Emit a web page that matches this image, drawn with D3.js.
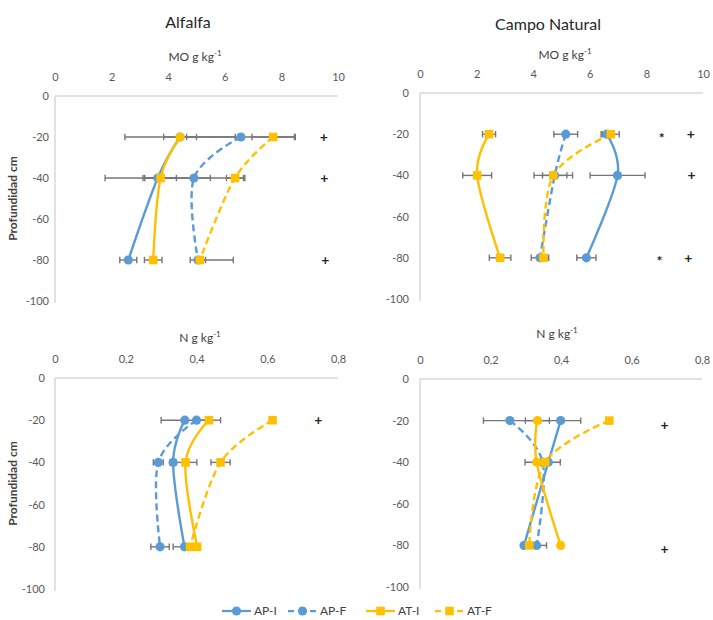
<!DOCTYPE html>
<html>
<head>
<meta charset="utf-8">
<script src="https://cdn.jsdelivr.net/npm/d3@7/dist/d3.min.js"></script>
<style>
  html, body { margin: 0; padding: 0; background: #ffffff; }
  svg { display: block; }
  text { font-family: Lato, "Open Sans", "Liberation Sans", sans-serif; }
</style>
</head>
<body>
<svg id="chart" width="713" height="620"></svg>
<script>
// ---------------- DATA ----------------
const seriesNames = ["AP-I", "AP-F", "AT-I", "AT-F"];
const depths = [-20, -40, -80];
const depthTicks = [0, -20, -40, -60, -80, -100];

const moTicks = [0, 2, 4, 6, 8, 10];
const moTickLabels = ["0", "2", "4", "6", "8", "10"];
const nTicks = [0, 0.2, 0.4, 0.6, 0.8];
const nTickLabels = ["0", "0,2", "0,4", "0,6", "0,8"];

const panelTitles = ["Alfalfa", "Campo Natural"];

// Alfalfa - MO g kg-1
const alfalfaMO = {
  "AP-I": [4.42, 3.63, 2.59],
  "AP-F": [6.57, 4.91, 5.05],
  "AT-I": [4.42, 3.73, 3.47],
  "AT-F": [7.71, 6.36, 5.12]
};
const alfalfaMOErrLo = {
  "AP-I": [1.95, 1.86, 0.30],
  "AP-F": [1.92, 1.80, 0.27],
  "AT-I": [0.58, 0.56, 0.31],
  "AT-F": [0.75, 0.30, 0.00]
};
const alfalfaMOErrHi = {
  "AP-I": [1.95, 1.86, 0.30],
  "AP-F": [1.92, 1.80, 0.27],
  "AT-I": [0.58, 0.56, 0.31],
  "AT-F": [0.75, 0.30, 1.18]
};
const alfalfaMOMarks = [
  { v: 9.5, d: -20, t: "+" }, { v: 9.52, d: -40, t: "+" }, { v: 9.55, d: -80, t: "+" }
];

// Campo Natural - MO g kg-1
const campoMO = {
  "AP-I": [6.60, 6.98, 5.88],
  "AP-F": [5.15, 4.76, 4.24],
  "AT-I": [2.44, 2.02, 2.83],
  "AT-F": [6.74, 4.71, 4.36]
};
const campoMOErr = {
  "AP-I": [0.20, 0.97, 0.34],
  "AP-F": [0.42, 0.43, 0.31],
  "AT-I": [0.23, 0.51, 0.38],
  "AT-F": [0.30, 0.68, 0.12]
};
const campoMOMarks = [
  { v: 8.54, d: -20, t: "*" }, { v: 9.57, d: -20, t: "+" },
  { v: 9.6, d: -40, t: "+" },
  { v: 8.46, d: -80, t: "*" }, { v: 9.48, d: -80, t: "+" }
];

// Alfalfa - N g kg-1
const alfalfaN = {
  "AP-I": [0.367, 0.334, 0.366],
  "AP-F": [0.400, 0.292, 0.297],
  "AT-I": [0.435, 0.369, 0.402],
  "AT-F": [0.615, 0.468, 0.382]
};
const alfalfaNErr = {
  "AP-I": [0.067, 0.009, 0.032],
  "AP-F": [0.008, 0.014, 0.026],
  "AT-I": [0.033, 0.032, 0.004],
  "AT-F": [0.007, 0.027, 0.004]
};
const alfalfaNMarks = [{ v: 0.744, d: -20, t: "+" }];

// Campo Natural - N g kg-1
const campoN = {
  "AP-I": [0.399, 0.364, 0.295],
  "AP-F": [0.255, 0.348, 0.331],
  "AT-I": [0.333, 0.331, 0.399],
  "AT-F": [0.537, 0.355, 0.310]
};
const campoNErr = {
  "AP-I": [0.057, 0.004, 0.004],
  "AP-F": [0.075, 0.050, 0.028],
  "AT-I": [0.034, 0.004, 0.004],
  "AT-F": [0.007, 0.004, 0.004]
};
const campoNMarks = [{ v: 0.694, d: -22, t: "+" }, { v: 0.694, d: -82, t: "+" }];

// ---------------- STYLE / LAYOUT ----------------
const BLUE = "#5B9BD5", YELLOW = "#FFC000", ERR = "#767676", AXIS = "#d9d9d9", TXT = "#595959";
const seriesStyle = {
  "AP-I": { color: BLUE, dash: null, shape: "circle" },
  "AP-F": { color: BLUE, dash: "7,4", shape: "circle" },
  "AT-I": { color: YELLOW, dash: null, shape: "square" },
  "AT-F": { color: YELLOW, dash: "7,4", shape: "square" }
};

const panels = [
  { x0: 55, x1: 338, y0: 96, y1: 301, max: 10, ticks: moTicks, labels: moTickLabels,
    vals: alfalfaMO, lo: alfalfaMOErrLo, hi: alfalfaMOErrHi, marks: alfalfaMOMarks,
    axisTitle: "MO g kg", axisTitleX: 195, axisTitleY: 61, tickY: 84, ylabOff: 6,
    title: panelTitles[0], titleX: 188, titleY: 28, ylab: true,
    shapeOverride: { "AT-I": ["circle", "square", "square"] } },
  { x0: 420, x1: 703, y0: 93, y1: 299, max: 10, ticks: moTicks, labels: moTickLabels,
    vals: campoMO, lo: campoMOErr, hi: campoMOErr, marks: campoMOMarks,
    axisTitle: "MO g kg", axisTitleX: 565, axisTitleY: 59, tickY: 81, ylabOff: 11,
    title: panelTitles[1], titleX: 548, titleY: 30, ylab: false, shapeOverride: {} },
  { x0: 55, x1: 338, y0: 378, y1: 589, max: 0.8, ticks: nTicks, labels: nTickLabels,
    vals: alfalfaN, lo: alfalfaNErr, hi: alfalfaNErr, marks: alfalfaNMarks,
    axisTitle: "N g kg", axisTitleX: 200, axisTitleY: 342, tickY: 366, ylabOff: 10,
    title: null, ylab: true, shapeOverride: {} },
  { x0: 420, x1: 702, y0: 379, y1: 587, max: 0.8, ticks: nTicks, labels: nTickLabels,
    vals: campoN, lo: campoNErr, hi: campoNErr, marks: campoNMarks,
    axisTitle: "N g kg", axisTitleX: 557, axisTitleY: 338, tickY: 367, ylabOff: 11,
    title: null, ylab: false, shapeOverride: { "AT-I": ["circle", "circle", "circle"] } }
];

const svg = d3.select("#chart");

function drawMarker(g, shape, cx, cy, color) {
  if (shape === "circle") {
    g.append("circle").attr("cx", cx).attr("cy", cy).attr("r", 4.6).attr("fill", color);
  } else {
    g.append("rect").attr("x", cx - 4.3).attr("y", cy - 4.3).attr("width", 8.6).attr("height", 8.6).attr("fill", color);
  }
}

panels.forEach(p => {
  const x = d3.scaleLinear().domain([0, p.max]).range([p.x0, p.x1]);
  const y = d3.scaleLinear().domain([0, -100]).range([p.y0, p.y1]);
  const g = svg.append("g");

  // title
  if (p.title) {
    g.append("text").attr("x", p.titleX).attr("y", p.titleY).attr("text-anchor", "middle")
      .attr("font-size", 16).attr("fill", "#262626").text(p.title);
  }
  // axis title with superscript
  const at = g.append("text").attr("x", p.axisTitleX).attr("y", p.axisTitleY).attr("text-anchor", "middle")
    .attr("font-size", 12).attr("fill", "#404040");
  at.append("tspan").text(p.axisTitle);
  at.append("tspan").attr("font-size", 8).attr("dy", -5).text("-1");

  // x axis (top) via d3 axis, no domain/ticks lines
  const xAxis = d3.axisTop(x).tickValues(p.ticks).tickSize(0)
    .tickFormat((d, i) => p.labels[i]);
  const xa = g.append("g").attr("transform", `translate(0,${p.tickY})`).call(xAxis);
  xa.select(".domain").remove();
  xa.selectAll("text").attr("fill", TXT).attr("font-size", 11).attr("dy", 0)
    .style("font-family", "Lato, 'Open Sans', sans-serif");

  // y axis labels
  const yAxis = d3.axisLeft(y).tickValues(depthTicks).tickSize(0).tickFormat(d => d === 0 ? "0" : "-" + Math.abs(d));
  const ya = g.append("g").attr("transform", `translate(${p.x0 - p.ylabOff + 3},0)`).call(yAxis);
  ya.select(".domain").remove();
  ya.selectAll("text").attr("fill", TXT).attr("font-size", 11)
    .style("font-family", "Lato, 'Open Sans', sans-serif");

  // axis lines
  g.append("line").attr("x1", x(0)).attr("x2", x(p.max)).attr("y1", y(0)).attr("y2", y(0))
    .attr("stroke", AXIS).attr("stroke-width", 1.5);
  g.append("line").attr("x1", x(0)).attr("x2", x(0)).attr("y1", y(0)).attr("y2", y(-100) + 2)
    .attr("stroke", AXIS).attr("stroke-width", 1.5);

  if (p.ylab) {
    const cy = (y(0) + y(-100)) / 2;
    g.append("text").attr("transform", `translate(17,${cy}) rotate(-90)`).attr("text-anchor", "middle")
      .attr("font-size", 12).attr("font-weight", "bold").attr("fill", "#404040").text("Profundidad cm");
  }

  // error bars
  const eg = g.append("g");
  seriesNames.forEach(s => {
    depths.forEach((d, i) => {
      const v = p.vals[s][i];
      const lo = v - p.lo[s][i], hi = v + p.hi[s][i];
      const yy = y(d);
      eg.append("line").attr("x1", x(lo)).attr("x2", x(hi)).attr("y1", yy).attr("y2", yy)
        .attr("stroke", ERR).attr("stroke-width", 1.4);
      [lo, hi].forEach(e => {
        eg.append("line").attr("x1", x(e)).attr("x2", x(e)).attr("y1", yy - 3.2).attr("y2", yy + 3.2)
          .attr("stroke", ERR).attr("stroke-width", 1.4);
      });
    });
  });

  // lines
  const line = d3.line().x(d => x(d[0])).y(d => y(d[1])).curve(d3.curveCatmullRom.alpha(0));
  seriesNames.forEach(s => {
    const pts = depths.map((d, i) => [p.vals[s][i], d]);
    const st = seriesStyle[s];
    g.append("path").attr("d", line(pts)).attr("fill", "none").attr("stroke", st.color)
      .attr("stroke-width", 2.4).attr("stroke-dasharray", st.dash);
  });

  // markers
  seriesNames.forEach(s => {
    const st = seriesStyle[s];
    depths.forEach((d, i) => {
      const shape = p.shapeOverride[s] ? p.shapeOverride[s][i] : st.shape;
      drawMarker(g, shape, x(p.vals[s][i]), y(d), st.color);
    });
  });

  // significance marks
  p.marks.forEach(m => {
    g.append("text").attr("x", x(m.v)).attr("y", y(m.d)).attr("dy", m.t === "*" ? "0.6em" : "0.35em")
      .attr("text-anchor", "middle").attr("font-size", m.t === "*" ? 14 : 14).attr("font-weight", "bold")
      .attr("fill", "#262626").text(m.t);
  });
});

// legend
const legendX = [222, 288, 366, 435];
const legY = 611;
const lg = svg.append("g");
seriesNames.forEach((s, i) => {
  const st = seriesStyle[s];
  const lx = legendX[i];
  lg.append("line").attr("x1", lx).attr("x2", lx + 29).attr("y1", legY).attr("y2", legY)
    .attr("stroke", st.color).attr("stroke-width", 2.25).attr("stroke-dasharray", st.dash ? "6,5" : null);
  drawMarker(lg, st.shape, lx + 14.5, legY, st.color);
  lg.append("text").attr("x", lx + 32).attr("y", legY).attr("dy", "0.35em").attr("font-size", 12)
    .attr("fill", "#404040").text(s);
});
</script>
</body>
</html>
